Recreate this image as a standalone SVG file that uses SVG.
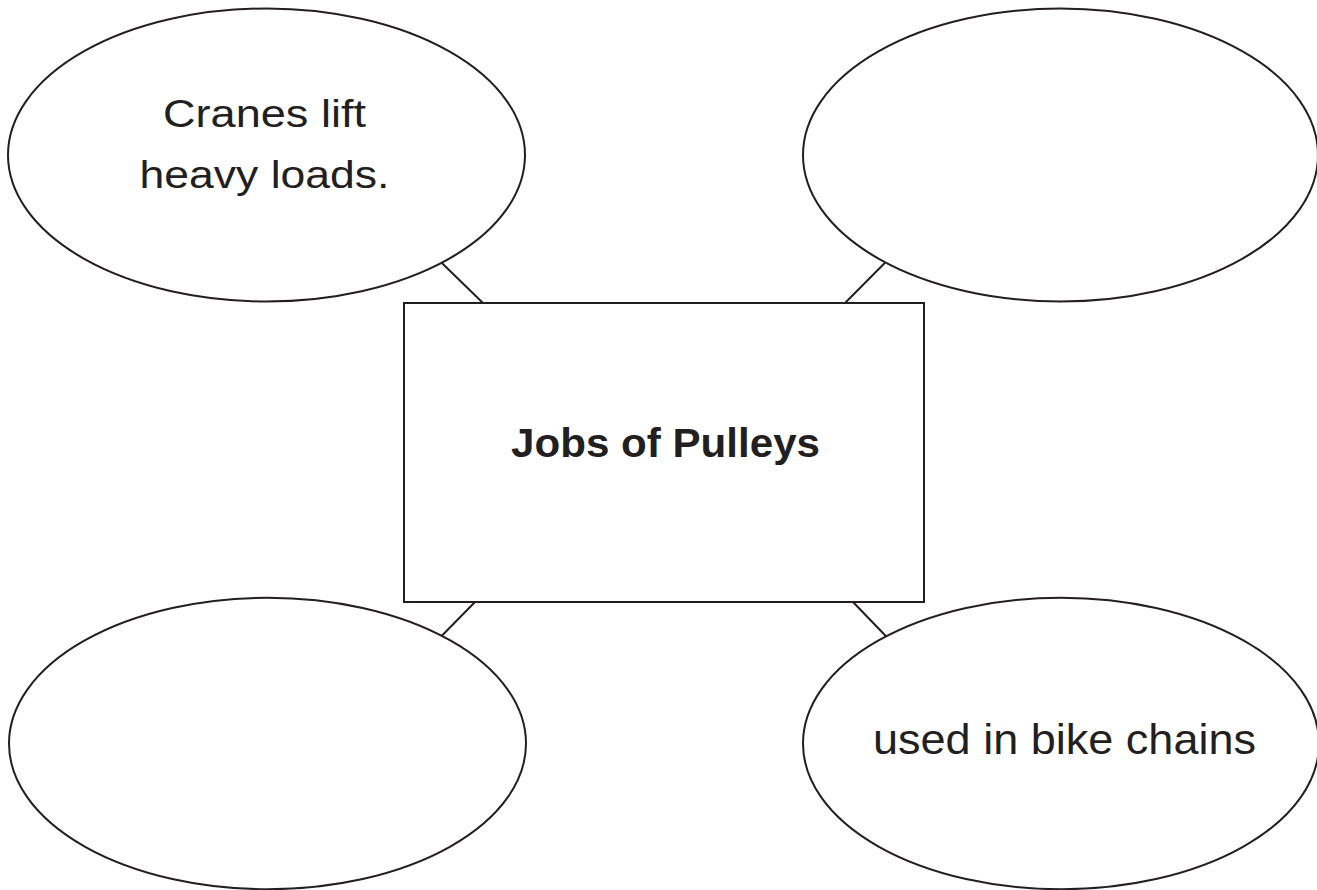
<svg xmlns="http://www.w3.org/2000/svg" width="1317" height="890" viewBox="0 0 1317 890">
  <style>
    .shape { fill: #ffffff; stroke: #231f20; stroke-width: 2; }
    .conn { stroke: #231f20; stroke-width: 2; fill: none; }
    .lbl { font-family: "Liberation Sans", Arial, sans-serif; fill: #231f20; }
    .title { font-family: "Liberation Sans", Arial, sans-serif; font-weight: bold; fill: #231f20; }
  </style>
  <rect x="0" y="0" width="1317" height="890" fill="#ffffff"/>
  <g id="connectors">
    <line class="conn" x1="441.6" y1="262.7" x2="483" y2="303"/>
    <line class="conn" x1="885" y1="262.7" x2="845" y2="303"/>
    <line class="conn" x1="475" y1="602" x2="441.6" y2="636"/>
    <line class="conn" x1="853" y1="602" x2="886.5" y2="636.7"/>
  </g>
  <g id="node-top-left">
    <ellipse class="shape" cx="266.5" cy="155" rx="258.5" ry="146.5"/>
    <text class="lbl" x="163" y="127" font-size="38" textLength="203" lengthAdjust="spacingAndGlyphs">Cranes lift</text>
    <text class="lbl" x="139.5" y="188" font-size="38" textLength="250" lengthAdjust="spacingAndGlyphs">heavy loads.</text>
  </g>
  <g id="node-top-right">
    <ellipse class="shape" cx="1060.5" cy="155" rx="257.5" ry="146.5"/>
  </g>
  <g id="node-center">
    <rect class="shape" x="404" y="303" width="520" height="299"/>
    <text class="title" x="511" y="457" font-size="41" textLength="309" lengthAdjust="spacingAndGlyphs">Jobs of Pulleys</text>
  </g>
  <g id="node-bottom-left">
    <ellipse class="shape" cx="267.5" cy="743.5" rx="258.5" ry="145.7"/>
  </g>
  <g id="node-bottom-right">
    <ellipse class="shape" cx="1061" cy="743.5" rx="258" ry="145.7"/>
    <text class="lbl" x="873" y="754" font-size="42" textLength="383" lengthAdjust="spacingAndGlyphs">used in bike chains</text>
  </g>
</svg>
